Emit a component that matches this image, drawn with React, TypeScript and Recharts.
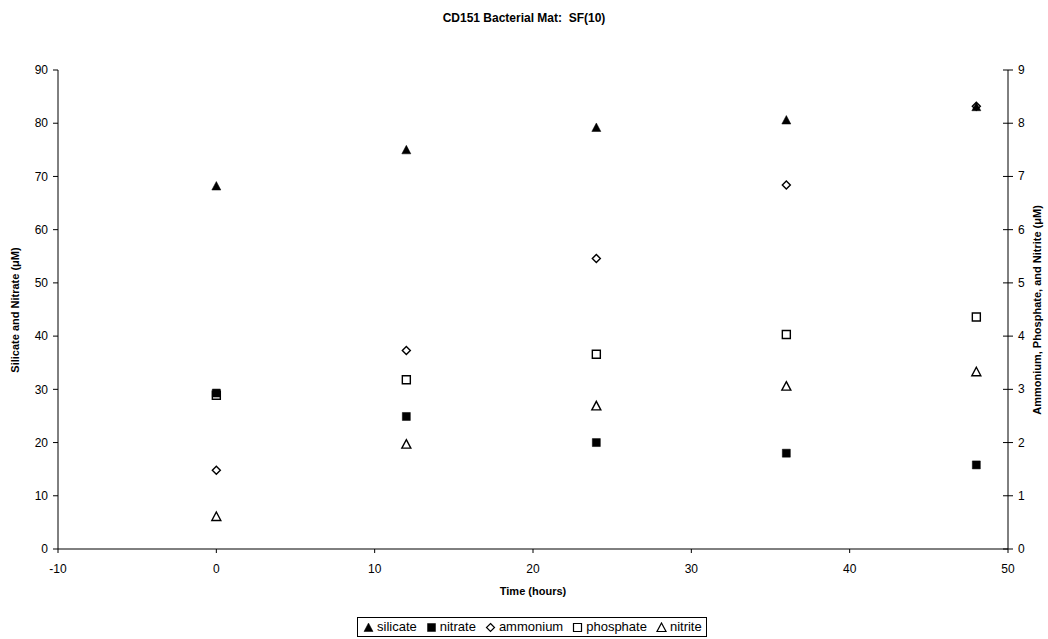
import React from "react";
import {
  ScatterChart,
  Scatter,
  XAxis,
  YAxis,
} from "recharts";

// sampling times (hours)
const hours = [0, 12, 24, 36, 48];

// left axis series (µM)
const silicate = [68.2, 75.0, 79.2, 80.6, 83.1];
const nitrate = [29.3, 24.9, 20.0, 18.0, 15.8];

// right axis series (µM)
const ammonium = [1.48, 3.73, 5.46, 6.84, 8.32];
const phosphate = [2.89, 3.18, 3.66, 4.03, 4.36];
const nitrite = [0.61, 1.97, 2.69, 3.06, 3.33];

const xTicks = [-10, 0, 10, 20, 30, 40, 50];
const leftTicks = [0, 10, 20, 30, 40, 50, 60, 70, 80, 90];
const rightTicks = [0, 1, 2, 3, 4, 5, 6, 7, 8, 9];

const toPoints = (ys: number[]) => hours.map((h, i) => ({ x: h, y: ys[i] }));

const FONT = "'Liberation Sans', Arial, sans-serif";

type MarkerKind = "triangle" | "square" | "diamond" | "openSquare" | "openTriangle";

const markerPath = (kind: MarkerKind, cx: number, cy: number) => {
  switch (kind) {
    case "triangle":
    case "openTriangle":
      return `M${cx},${cy - 4.5}L${cx + 4.5},${cy + 4}L${cx - 4.5},${cy + 4}Z`;
    case "diamond":
      return `M${cx},${cy - 4}L${cx + 4},${cy}L${cx},${cy + 4}L${cx - 4},${cy}Z`;
    default:
      return `M${cx - 4},${cy - 4}H${cx + 4}V${cy + 4}H${cx - 4}Z`;
  }
};

const isFilled = (kind: MarkerKind) => kind === "triangle" || kind === "square";

const Marker = (kind: MarkerKind) => (props: any) => {
  const { cx, cy } = props;
  if (cx == null || cy == null) return <g />;
  const filled = isFilled(kind);
  return (
    <path
      d={markerPath(kind, cx, cy)}
      fill={filled ? "#000" : "#fff"}
      stroke="#000"
      strokeWidth={filled ? 0.5 : 1.4}
      strokeLinejoin="miter"
    />
  );
};

const legendItems: { name: string; kind: MarkerKind }[] = [
  { name: "silicate", kind: "triangle" },
  { name: "nitrate", kind: "square" },
  { name: "ammonium", kind: "diamond" },
  { name: "phosphate", kind: "openSquare" },
  { name: "nitrite", kind: "openTriangle" },
];

const LegendBox = () => (
  <div
    style={{
      position: "absolute",
      left: 357,
      top: 617,
      display: "flex",
      alignItems: "center",
      border: "1px solid #000",
      background: "#fff",
      padding: "1px 4px 1px 5px",
      fontFamily: FONT,
      fontSize: 13,
      color: "#000",
      lineHeight: "16px",
    }}
  >
    {legendItems.map((it, i) => (
      <span
        key={it.name}
        style={{ display: "flex", alignItems: "center", marginRight: i < legendItems.length - 1 ? 9 : 0 }}
      >
        <svg width={11} height={11} style={{ marginRight: 3 }}>
          <path
            d={markerPath(it.kind, 5.5, 5.5)}
            fill={isFilled(it.kind) ? "#000" : "#fff"}
            stroke="#000"
            strokeWidth={isFilled(it.kind) ? 0.5 : 1.2}
          />
        </svg>
        {it.name}
      </span>
    ))}
  </div>
);

// right axis ticks cross the axis line
const RightTick = (props: any) => {
  const { x, y, payload } = props;
  return (
    <g>
      <line x1={x - 15} x2={x - 5} y1={y} y2={y} stroke="#000" />
      <text x={x} y={y} dy={4} fontFamily={FONT} fontSize={12} fill="#000" textAnchor="start">
        {payload.value}
      </text>
    </g>
  );
};

const tickStyle = { fill: "#000", fontSize: 12, fontFamily: FONT };

export default function App() {
  return (
    <div style={{ position: "absolute", left: 0, top: 0, width: 1048, height: 639, background: "#fff" }}>
      <div
        style={{
          position: "absolute",
          left: 0,
          top: 11,
          width: 1048,
          textAlign: "center",
          fontFamily: FONT,
          fontWeight: "bold",
          fontSize: 12,
          color: "#000",
          whiteSpace: "pre",
        }}
      >
        {"CD151 Bacterial Mat:  SF(10)"}
      </div>
      <ScatterChart width={1048} height={639} margin={{ top: 70, right: 0, bottom: 0, left: 0 }}>
        <XAxis
          type="number"
          dataKey="x"
          domain={[-10, 50]}
          ticks={xTicks}
          allowDataOverflow
          height={90}
          stroke="#000"
          tickSize={4}
          tickMargin={11}
          tick={tickStyle}
          label={{
            value: "Time (hours)",
            position: "insideTop",
            offset: 38,
            style: { fill: "#000", fontSize: 11, fontWeight: "bold", fontFamily: FONT },
          }}
        />
        <YAxis
          yAxisId="left"
          type="number"
          dataKey="y"
          domain={[0, 90]}
          ticks={leftTicks}
          width={58}
          stroke="#000"
          tickSize={5}
          tickMargin={5}
          tick={tickStyle}
          label={{
            content: () => (
              <text
                x={19}
                y={310}
                transform="rotate(-90 19 310)"
                textAnchor="middle"
                fontFamily={FONT}
                fontSize={11}
                fontWeight="bold"
                fill="#000"
              >
                Silicate and Nitrate (μM)
              </text>
            ),
          }}
        />
        <YAxis
          yAxisId="right"
          orientation="right"
          type="number"
          dataKey="y"
          domain={[0, 9]}
          ticks={rightTicks}
          width={40}
          stroke="#000"
          tickLine={false}
          tickSize={0}
          tickMargin={10}
          tick={RightTick}
          label={{
            content: () => (
              <text
                x={1041}
                y={310}
                transform="rotate(-90 1041 310)"
                textAnchor="middle"
                fontFamily={FONT}
                fontSize={11}
                fontWeight="bold"
                fill="#000"
              >
                Ammonium, Phosphate, and Nitrite (μM)
              </text>
            ),
          }}
        />
        <Scatter name="phosphate" yAxisId="right" data={toPoints(phosphate)} shape={Marker("openSquare")} isAnimationActive={false} />
        <Scatter name="nitrite" yAxisId="right" data={toPoints(nitrite)} shape={Marker("openTriangle")} isAnimationActive={false} />
        <Scatter name="ammonium" yAxisId="right" data={toPoints(ammonium)} shape={Marker("diamond")} isAnimationActive={false} />
        <Scatter name="nitrate" yAxisId="left" data={toPoints(nitrate)} shape={Marker("square")} isAnimationActive={false} />
        <Scatter name="silicate" yAxisId="left" data={toPoints(silicate)} shape={Marker("triangle")} isAnimationActive={false} />
      </ScatterChart>
      <LegendBox />
    </div>
  );
}
